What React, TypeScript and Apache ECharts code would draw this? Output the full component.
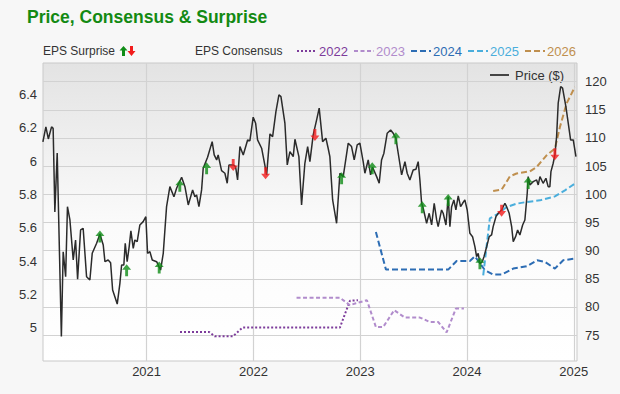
import React, { useEffect, useRef } from "react";
import * as echarts from "echarts";

// ---- Data (x = decimal year) ----
const yearTicks = [2021, 2022, 2023, 2024, 2025];
const priceTicks = [75, 80, 85, 90, 95, 100, 105, 110, 115, 120];

const price: [number, number][] = [
  [2020.029, 109.29], [2020.057, 111.97], [2020.08, 109.82], [2020.11, 111.96], [2020.125, 111.69],
  [2020.141, 96.86], [2020.163, 107.34], [2020.202, 74.74], [2020.219, 89.8], [2020.242, 85.36],
  [2020.259, 97.8], [2020.282, 95.44], [2020.313, 88.33], [2020.335, 91.88], [2020.354, 84.9],
  [2020.382, 93.66], [2020.406, 93.96], [2020.438, 85.36], [2020.469, 84.78], [2020.491, 89.52],
  [2020.532, 91.3], [2020.563, 92.95], [2020.594, 91.0], [2020.61, 88.03], [2020.64, 88.33],
  [2020.663, 87.85], [2020.682, 83.0], [2020.725, 80.51], [2020.75, 84.19], [2020.766, 87.44],
  [2020.787, 87.44], [2020.8, 91.3], [2020.818, 88.03], [2020.837, 90.69], [2020.853, 93.49],
  [2020.875, 90.41], [2020.89, 91.88], [2020.912, 91.58], [2020.937, 94.55], [2020.968, 95.14],
  [2020.993, 96.02], [2021.009, 89.52], [2021.031, 89.8], [2021.053, 88.33], [2021.094, 88.03],
  [2021.131, 86.55], [2021.156, 89.52], [2021.187, 97.8], [2021.218, 101.35], [2021.256, 99.57],
  [2021.281, 101.07], [2021.328, 103.02], [2021.359, 101.35], [2021.39, 98.1], [2021.431, 100.77],
  [2021.452, 99.57], [2021.468, 99.88], [2021.49, 97.8], [2021.515, 100.77], [2021.53, 104.62],
  [2021.571, 106.57], [2021.614, 109.34], [2021.633, 106.98], [2021.656, 106.09], [2021.67, 106.98],
  [2021.702, 104.19], [2021.733, 103.73], [2021.755, 101.95], [2021.771, 105.2], [2021.811, 105.2],
  [2021.833, 104.9], [2021.852, 102.54], [2021.874, 108.46], [2021.905, 106.98], [2021.946, 109.64],
  [2021.967, 109.47], [2021.998, 113.68], [2022.021, 112.61], [2022.039, 109.64], [2022.077, 108.17],
  [2022.101, 105.79], [2022.124, 103.43], [2022.155, 110.71], [2022.18, 110.23], [2022.211, 114.67],
  [2022.239, 117.64], [2022.258, 117.34], [2022.295, 112.61], [2022.317, 105.2], [2022.342, 107.57],
  [2022.373, 106.68], [2022.389, 109.77], [2022.426, 106.68], [2022.451, 98.1], [2022.482, 105.5],
  [2022.508, 108.46], [2022.529, 105.79], [2022.56, 110.53], [2022.592, 113.2], [2022.616, 115.28],
  [2022.648, 109.34], [2022.679, 109.95], [2022.7, 108.17], [2022.716, 106.68], [2022.742, 98.99],
  [2022.779, 94.85], [2022.81, 103.73], [2022.841, 103.13], [2022.888, 109.06], [2022.919, 108.46],
  [2022.944, 106.09], [2022.972, 108.76], [2022.997, 109.06], [2023.028, 105.79], [2023.044, 103.73],
  [2023.075, 106.09], [2023.097, 103.43], [2023.116, 104.8], [2023.154, 103.13], [2023.178, 101.95],
  [2023.2, 106.09], [2023.222, 107.28], [2023.253, 110.84], [2023.285, 111.42], [2023.309, 110.84],
  [2023.334, 109.95], [2023.356, 107.28], [2023.388, 103.43], [2023.419, 105.79], [2023.44, 103.73],
  [2023.465, 102.54], [2023.496, 104.32], [2023.522, 104.44], [2023.543, 105.79], [2023.559, 102.54],
  [2023.575, 98.4], [2023.59, 97.51], [2023.622, 94.85], [2023.646, 96.62], [2023.669, 94.55],
  [2023.693, 98.4], [2023.716, 95.44], [2023.73, 94.25], [2023.762, 97.21], [2023.777, 96.62],
  [2023.803, 94.55], [2023.824, 99.57], [2023.84, 94.25], [2023.856, 97.8], [2023.877, 98.99],
  [2023.896, 97.21], [2023.918, 99.7], [2023.94, 97.8], [2023.959, 98.4], [2023.98, 98.99],
  [2024.002, 97.21], [2024.027, 93.07], [2024.052, 92.47], [2024.074, 90.69], [2024.09, 88.92],
  [2024.105, 89.52], [2024.121, 87.62], [2024.143, 88.03], [2024.159, 88.92], [2024.184, 90.69],
  [2024.208, 92.47], [2024.23, 92.77], [2024.245, 94.25], [2024.271, 96.02], [2024.292, 96.62],
  [2024.324, 97.21], [2024.355, 98.4], [2024.371, 97.8], [2024.395, 96.62], [2024.418, 94.25],
  [2024.433, 91.58], [2024.455, 92.47], [2024.474, 93.66], [2024.495, 92.77], [2024.521, 94.55],
  [2024.542, 95.44], [2024.564, 100.18], [2024.573, 103.13], [2024.589, 101.65], [2024.62, 102.24],
  [2024.652, 102.54], [2024.667, 101.65], [2024.683, 103.13], [2024.713, 101.95], [2024.739, 102.84],
  [2024.76, 101.35], [2024.776, 101.35], [2024.786, 104.02], [2024.807, 105.5], [2024.823, 106.98],
  [2024.839, 110.23], [2024.854, 116.16], [2024.877, 119.11], [2024.895, 118.83], [2024.926, 115.56],
  [2024.948, 112.61], [2024.97, 109.64], [2024.995, 109.64], [2025.02, 106.68],
];

// EPS surprise markers, placed at the price
const beats: [number, number][] = [
  [2020.563, 92.5], [2020.813, 86.5], [2021.118, 87.0], [2021.311, 101.5], [2021.562, 104.6],
  [2022.826, 102.84], [2023.113, 104.62], [2023.334, 109.95], [2023.581, 97.69], [2023.824, 99.0],
  [2024.121, 87.75], [2024.573, 102.0],
];
const misses: [number, number][] = [
  [2021.811, 105.2], [2022.114, 103.73], [2022.576, 110.53], [2024.324, 97.09], [2024.823, 107.08],
];

// EPS consensus by fiscal year
const cons2022: [number, number][] = [
  [2021.313, 4.974], [2021.586, 4.974], [2021.64, 4.948], [2021.808, 4.948], [2021.899, 5.001],
  [2022.81, 5.001], [2022.904, 5.162], [2022.979, 5.165],
];
const cons2023: [number, number][] = [
  [2022.404, 5.18], [2022.81, 5.18], [2022.904, 5.135], [2022.96, 5.147], [2023.063, 5.165],
  [2023.147, 5.004], [2023.215, 5.004], [2023.318, 5.105], [2023.419, 5.061], [2023.559, 5.061],
  [2023.653, 5.034], [2023.731, 5.034], [2023.809, 4.972], [2023.896, 5.115], [2023.971, 5.115],
];
const cons2024: [number, number][] = [
  [2023.147, 5.575], [2023.241, 5.349], [2023.824, 5.349], [2023.903, 5.401], [2024.027, 5.401],
  [2024.074, 5.429], [2024.168, 5.345], [2024.245, 5.319], [2024.324, 5.319], [2024.433, 5.355],
  [2024.558, 5.369], [2024.657, 5.405], [2024.73, 5.395], [2024.823, 5.355], [2024.901, 5.405],
  [2025.01, 5.415],
];
const cons2025: [number, number][] = [
  [2024.152, 5.315], [2024.214, 5.657], [2024.292, 5.685], [2024.371, 5.725], [2024.464, 5.745],
  [2024.558, 5.755], [2024.683, 5.765], [2024.823, 5.789], [2024.917, 5.825], [2025.01, 5.866],
];
const cons2026: [number, number][] = [
  [2024.245, 5.821], [2024.324, 5.829], [2024.402, 5.909], [2024.464, 5.926], [2024.589, 5.939],
  [2024.652, 5.965], [2024.745, 6.035], [2024.823, 6.076], [2024.87, 6.205], [2024.932, 6.346],
  [2025.01, 6.446],
];

const FONT = '"Liberation Sans", Arial, sans-serif';
const C2022 = "#7d3c9b";
const C2023 = "#b18ccc";
const C2024 = "#2d6db4";
const C2025 = "#4aaedc";
const C2026 = "#bf8f4e";
const GREEN = "#0f8c16";
const RED = "#f21c1c";

const UP = "path://M5,0L10,6L6.6,6L6.6,13L3.4,13L3.4,6L0,6Z";
const DOWN = "path://M3.4,0L6.6,0L6.6,7L10,7L5,13L0,7L3.4,7Z";

function consSeries(name: string, data: [number, number][], color: string, dash: number[]) {
  return {
    name,
    type: "line",
    yAxisIndex: 0,
    data,
    showSymbol: false,
    symbol: "none",
    lineStyle: { color, width: 2, type: dash },
    z: 3,
    silent: true,
  };
}

function legendItem(x: number, label: string, color: string, dash: number[]) {
  return [
    {
      type: "line",
      shape: { x1: x, y1: 51, x2: x + 20, y2: 51 },
      style: { stroke: color, lineWidth: 2, lineDash: dash },
    },
    {
      type: "text",
      x: x + 22,
      y: 51,
      style: { text: label, fill: color, font: `13px ${FONT}`, verticalAlign: "middle" },
    },
  ];
}

export default function App() {
  const ref = useRef<HTMLDivElement>(null);
  useEffect(() => {
    const chart = echarts.init(ref.current!, null, { renderer: "svg" });
    chart.setOption({
      animation: false,
      backgroundColor: "#f7f7f7",
      grid: {
        left: 43,
        right: 43,
        top: 63,
        bottom: 33,
        show: true,
        borderColor: "#c9c9c9",
        borderWidth: 1,
        backgroundColor: {
          type: "linear",
          x: 0,
          y: 0,
          x2: 0,
          y2: 1,
          colorStops: [
            { offset: 0, color: "#e3e3e3" },
            { offset: 0.55, color: "#fbfbfb" },
            { offset: 1, color: "#ffffff" },
          ],
        },
      },
      xAxis: {
        type: "value",
        min: 2020.03,
        max: 2025.03,
        axisLine: { show: false },
        axisTick: { show: false, customValues: yearTicks },
        axisLabel: {
          customValues: yearTicks,
          formatter: (v: number) => String(Math.round(v)),
          color: "#333",
          fontFamily: FONT,
          fontSize: 13,
          margin: 4,
        },
        splitLine: { show: true, lineStyle: { color: "#d2d2d2", width: 1.2 } },
      },
      yAxis: [
        {
          type: "value",
          position: "left",
          min: 4.8,
          max: 6.59,
          interval: 0.2,
          axisLine: { show: false },
          axisTick: { show: false },
          splitLine: { show: false },
          axisLabel: {
            showMinLabel: false,
            showMaxLabel: false,
            color: "#333",
            fontFamily: FONT,
            fontSize: 13,
            margin: 6,
          },
        },
        {
          type: "value",
          position: "right",
          min: 70.4,
          max: 123.3,
          axisLine: { show: false },
          axisTick: { show: false, customValues: priceTicks },
          splitLine: { show: true, lineStyle: { color: "#d2d2d2", width: 1.2 } },
          axisLabel: {
            customValues: priceTicks,
            color: "#333",
            fontFamily: FONT,
            fontSize: 13,
            margin: 8,
          },
        },
      ],
      series: [
        consSeries("2022", cons2022, C2022, [2, 2]),
        consSeries("2023", cons2023, C2023, [4, 2.5]),
        consSeries("2024", cons2024, C2024, [6, 3]),
        consSeries("2025", cons2025, C2025, [6, 3]),
        consSeries("2026", cons2026, C2026, [6, 3]),
        {
          name: "Price ($)",
          type: "line",
          yAxisIndex: 1,
          data: price,
          showSymbol: false,
          symbol: "none",
          lineStyle: { color: "#2b2b2b", width: 1.5 },
          z: 4,
          silent: true,
        },
        {
          name: "Beat",
          type: "scatter",
          yAxisIndex: 1,
          data: beats,
          symbol: UP,
          symbolSize: [9, 12],
          itemStyle: { color: GREEN },
          z: 5,
        },
        {
          name: "Miss",
          type: "scatter",
          yAxisIndex: 1,
          data: misses,
          symbol: DOWN,
          symbolSize: [9, 12],
          itemStyle: { color: RED },
          z: 5,
        },
      ],
      graphic: [
        {
          type: "text",
          x: 27,
          y: 17,
          style: {
            text: "Price, Consensus & Surprise",
            fill: "#138a13",
            font: `bold 17.5px ${FONT}`,
            verticalAlign: "middle",
          },
        },
        {
          type: "text",
          x: 43,
          y: 51,
          style: { text: "EPS Surprise", fill: "#333", font: `12px ${FONT}`, verticalAlign: "middle" },
        },
        {
          type: "polygon",
          shape: {
            points: [[123.5, 46], [127.5, 50.5], [125, 50.5], [125, 56], [122, 56], [122, 50.5], [119.5, 50.5]],
          },
          style: { fill: GREEN },
        },
        {
          type: "polygon",
          shape: {
            points: [[130, 46], [133, 46], [133, 51], [135.5, 51], [131.5, 56], [127.5, 51], [130, 51]],
          },
          style: { fill: RED },
        },
        {
          type: "text",
          x: 195,
          y: 51,
          style: { text: "EPS Consensus", fill: "#333", font: `12px ${FONT}`, verticalAlign: "middle" },
        },
        ...legendItem(297, "2022", C2022, [2, 2]),
        ...legendItem(354, "2023", C2023, [4, 2.5]),
        ...legendItem(411, "2024", C2024, [6, 3]),
        ...legendItem(468, "2025", C2025, [6, 3]),
        ...legendItem(525, "2026", C2026, [6, 3]),
        {
          type: "line",
          shape: { x1: 490, y1: 75, x2: 509, y2: 75 },
          style: { stroke: "#444", lineWidth: 2 },
        },
        {
          type: "text",
          x: 515,
          y: 75,
          style: { text: "Price ($)", fill: "#333", font: `13px ${FONT}`, verticalAlign: "middle" },
        },
      ],
    });
    return () => chart.dispose();
  }, []);
  return (
    <div
      ref={ref}
      style={{ position: "fixed", left: 0, top: 0, width: 620, height: 394, background: "#f7f7f7" }}
    />
  );
}
